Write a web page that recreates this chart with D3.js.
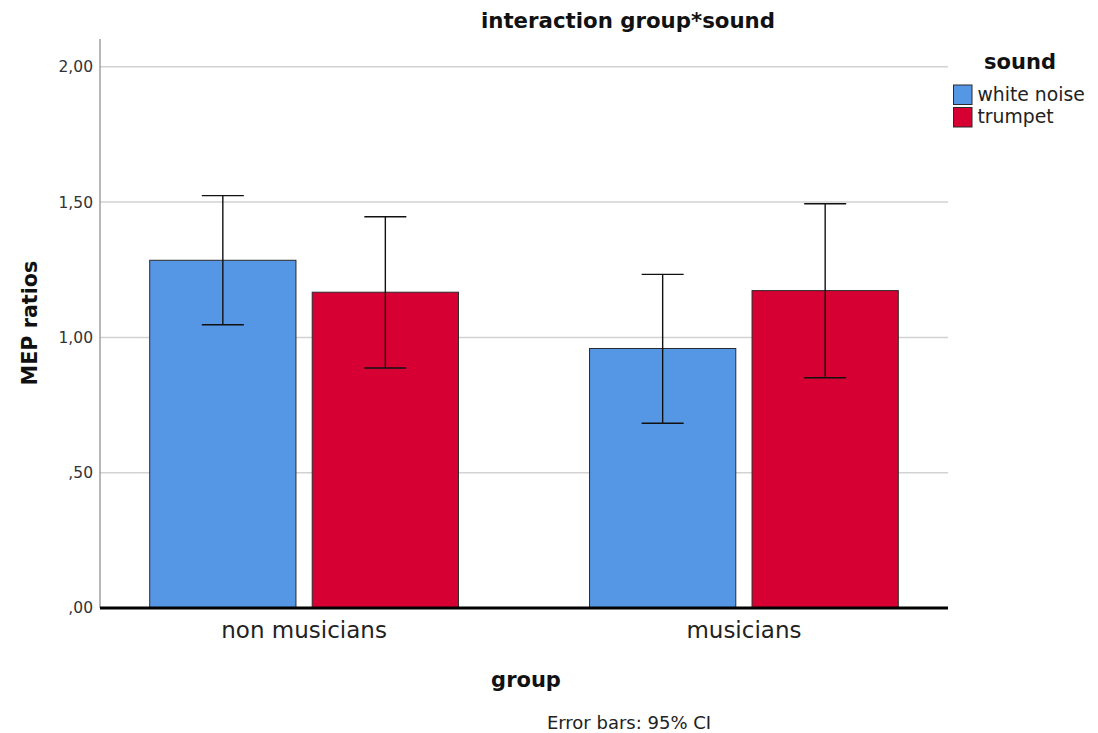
<!DOCTYPE html>
<html>
<head>
<meta charset="utf-8">
<script src="https://cdn.jsdelivr.net/npm/d3@7"></script>
<style>
  html, body { margin: 0; padding: 0; background: #fff; }
  svg { display: block; }
</style>
</head>
<body>
<svg id="chart" width="1098" height="733"></svg>
<script>
// Data: mean MEP ratios with 95% CI per group and sound
const groups = ["non musicians", "musicians"];
const sounds = ["white noise", "trumpet"];
const meanWhiteNoise = [1.285, 0.959];
const meanTrumpet = [1.167, 1.173];
const ciLowWhiteNoise = [1.047, 0.683];
const ciHighWhiteNoise = [1.524, 1.233];
const ciLowTrumpet = [0.887, 0.851];
const ciHighTrumpet = [1.446, 1.494];
const yTicks = [0, 0.5, 1.0, 1.5, 2.0];
const soundColors = ["#5596e5", "#d60032"];

const rows = [];
groups.forEach((g, i) => {
  rows.push({ group: g, sound: sounds[0], mean: meanWhiteNoise[i], lo: ciLowWhiteNoise[i], hi: ciHighWhiteNoise[i] });
  rows.push({ group: g, sound: sounds[1], mean: meanTrumpet[i], lo: ciLowTrumpet[i], hi: ciHighTrumpet[i] });
});

const FONT = "DejaVu Sans, sans-serif";
const svg = d3.select("#chart");
const plot = { left: 100, right: 948, top: 39, bottom: 608 };

const x0 = d3.scaleBand().domain(groups).range([plot.left, plot.right])
  .paddingInner(0.298).paddingOuter(0.113);
const x1 = d3.scaleBand().domain(sounds).range([0, x0.bandwidth()])
  .paddingInner(0.1).paddingOuter(0);
const y = d3.scaleLinear().domain([0, 2.1]).range([plot.bottom, plot.bottom - 2.1 * 270.6]);
const color = d3.scaleOrdinal().domain(sounds).range(soundColors);

const fmt = v => d3.format(".2f")(v).replace(".", ",").replace(/^0,/, ",");

// Gridlines
svg.append("g").selectAll("line").data(yTicks.filter(t => t > 0)).join("line")
  .attr("x1", plot.left).attr("x2", plot.right)
  .attr("y1", d => y(d)).attr("y2", d => y(d))
  .attr("stroke", "#d2d2d2").attr("stroke-width", 1.5);

// Y axis
const yAxis = svg.append("g").attr("transform", `translate(${plot.left},0)`)
  .call(d3.axisLeft(y).tickValues(yTicks).tickFormat(fmt).tickSize(0).tickPadding(7));
yAxis.select(".domain").remove();
yAxis.selectAll("text").attr("font-family", FONT)
  .attr("font-size", 15.5).attr("fill", "#333");
svg.append("line").attr("x1", plot.left).attr("x2", plot.left)
  .attr("y1", plot.top).attr("y2", plot.bottom)
  .attr("stroke", "#888").attr("stroke-width", 1.2);

// Bars
svg.append("g").selectAll("rect").data(rows).join("rect")
  .attr("x", d => x0(d.group) + x1(d.sound))
  .attr("width", x1.bandwidth())
  .attr("y", d => y(d.mean))
  .attr("height", d => y(0) - y(d.mean))
  .attr("fill", d => color(d.sound))
  .attr("stroke", "#2b2b2b").attr("stroke-width", 1);

// Error bars
const cap = 21;
const eb = svg.append("g").attr("stroke", "#111").attr("stroke-width", 1.4);
rows.forEach(d => {
  const cx = x0(d.group) + x1(d.sound) + x1.bandwidth() / 2;
  eb.append("line").attr("x1", cx).attr("x2", cx).attr("y1", y(d.hi)).attr("y2", y(d.lo));
  eb.append("line").attr("x1", cx - cap).attr("x2", cx + cap).attr("y1", y(d.hi)).attr("y2", y(d.hi));
  eb.append("line").attr("x1", cx - cap).attr("x2", cx + cap).attr("y1", y(d.lo)).attr("y2", y(d.lo));
});

// Baseline
svg.append("line").attr("x1", plot.left).attr("x2", plot.right)
  .attr("y1", y(0)).attr("y2", y(0))
  .attr("stroke", "#000").attr("stroke-width", 3);

// X axis labels
const xAxis = svg.append("g").attr("transform", `translate(0,${y(0)})`)
  .call(d3.axisBottom(x0).tickSize(0).tickPadding(14));
xAxis.select(".domain").remove();
xAxis.selectAll("text").attr("font-family", FONT)
  .attr("font-size", 23).attr("fill", "#222");

// Titles
svg.append("text").attr("x", 628).attr("y", 28).attr("text-anchor", "middle")
  .attr("font-family", FONT).attr("font-weight", "bold")
  .attr("font-size", 21.3).attr("fill", "#111").text("interaction group*sound");

svg.append("text").attr("transform", "translate(37,323) rotate(-90)")
  .attr("text-anchor", "middle")
  .attr("font-family", FONT).attr("font-weight", "bold")
  .attr("font-size", 20.7).attr("fill", "#111").text("MEP ratios");

svg.append("text").attr("x", 526).attr("y", 687).attr("text-anchor", "middle")
  .attr("font-family", FONT).attr("font-weight", "bold")
  .attr("font-size", 21).attr("fill", "#111").text("group");

svg.append("text").attr("x", 629).attr("y", 729).attr("text-anchor", "middle")
  .attr("font-family", FONT)
  .attr("font-size", 18).attr("fill", "#222").text("Error bars: 95% CI");

// Legend
const legend = svg.append("g");
legend.append("text").attr("x", 1020).attr("y", 69).attr("text-anchor", "middle")
  .attr("font-family", FONT).attr("font-weight", "bold")
  .attr("font-size", 21).attr("fill", "#111").text("sound");
const items = legend.selectAll("g.item").data(sounds).join("g").attr("class", "item")
  .attr("transform", (d, i) => `translate(953.5,${85 + i * 22.5})`);
items.append("rect").attr("width", 18.5).attr("height", 19.5)
  .attr("fill", d => color(d)).attr("stroke", "#2b2b2b").attr("stroke-width", 1);
items.append("text").attr("x", 24).attr("y", 15.5)
  .attr("font-family", FONT)
  .attr("font-size", 18.8).attr("fill", "#222").text(d => d);
</script>
</body>
</html>
